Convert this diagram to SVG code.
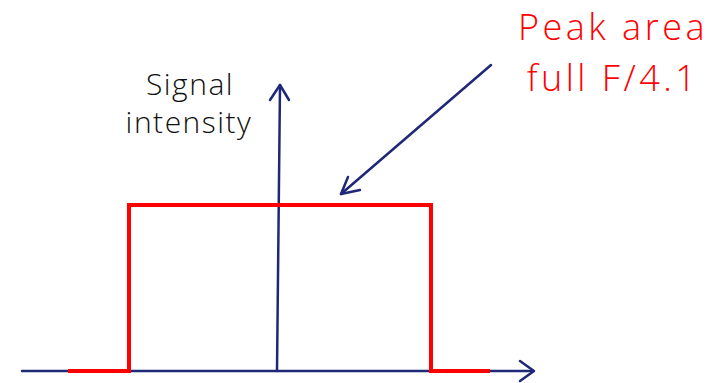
<svg xmlns="http://www.w3.org/2000/svg" width="721" height="383" viewBox="0 0 721 383">
<style>
.ax{fill:none;stroke:#1f2877;stroke-width:2.5;stroke-linecap:round;stroke-linejoin:round}
.sig{fill:none;stroke:#ff0000;stroke-width:4;stroke-linejoin:miter}
.lbl{font-family:"Open Sans",Lato,"Liberation Sans",sans-serif;font-weight:300;text-anchor:middle}
</style>
<rect width="721" height="383" fill="#ffffff"/>
<g id="connectors">
<path class="ax" d="M22,371 L533,371"/>
<path class="ax" d="M520,361 L534,371 L520,381"/>
<path class="ax" d="M277,371 L280,85"/>
<path class="ax" d="M270,100 L280,85 L289,100"/>
<path class="ax" d="M491,65 L341,194"/>
<path class="ax" d="M348,177 L341,194 L360,190"/>
</g>
<g id="signal">
<path class="sig" d="M68,371 L129,371 L129,205 L431,205 L431,371 L490,371"/>
</g>
<g id="label-intensity">
<text class="lbl" x="190" y="95" font-size="30" fill="#111111" letter-spacing="1.5">Signal</text>
<text class="lbl" x="189" y="133" font-size="30" fill="#111111" letter-spacing="1.5">intensity</text>
</g>
<g id="label-peak">
<text class="lbl" x="613" y="40" font-size="36" fill="#ff0000" letter-spacing="3.5">Peak area</text>
<text class="lbl" x="613" y="91" font-size="36" fill="#ff0000" letter-spacing="3.5">full F/4.1</text>
</g>
</svg>
